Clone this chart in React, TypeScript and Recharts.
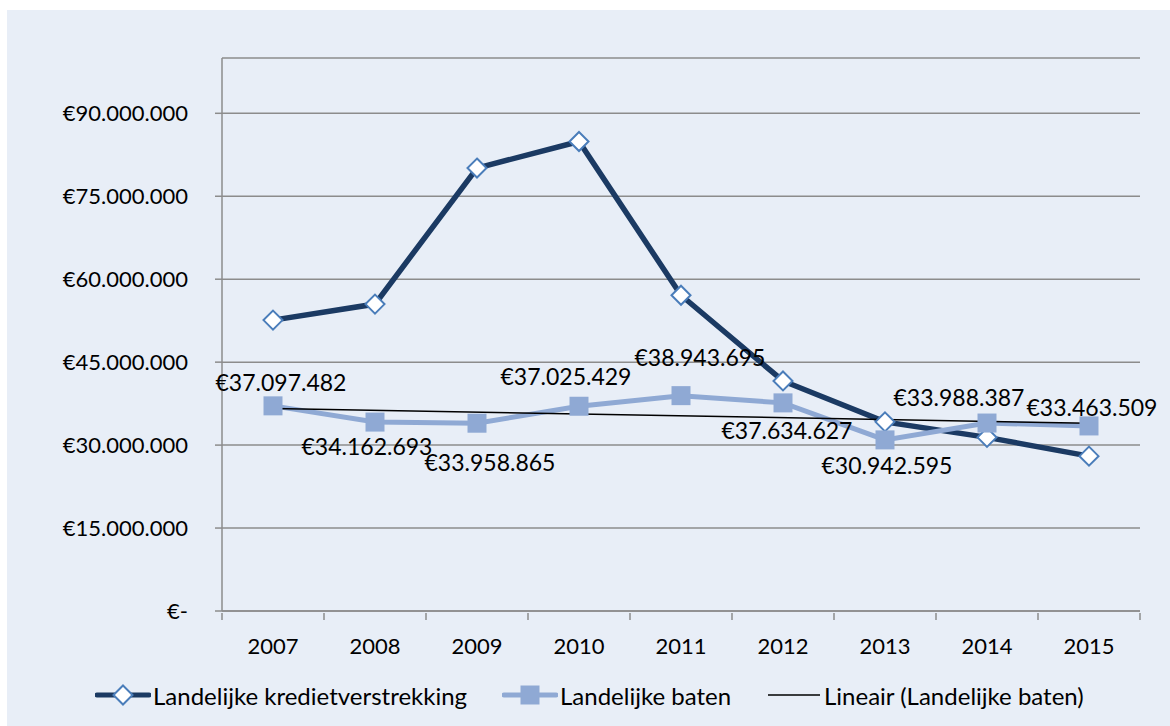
import React from 'react';
import {
  LineChart,
  Line,
  XAxis,
  YAxis,
  CartesianGrid,
  LabelList,
} from 'recharts';

// waarden
const years = ['2007', '2008', '2009', '2010', '2011', '2012', '2013', '2014', '2015'];
const kredietverstrekking = [
  52600000, 55500000, 80100000, 84900000, 57100000, 41600000, 34200000, 31400000, 28000000,
];
const baten = [
  37097482, 34162693, 33958865, 37025429, 38943695, 37634627, 30942595, 33988387, 33463509,
];
// lineaire trend: alleen begin- en eindpunt
const trendBaten = [36630000, null, null, null, null, null, null, null, 33950000];
const yTicks = [0, 15000000, 30000000, 45000000, 60000000, 75000000, 90000000];

const data = years.map((year, i) => ({
  year,
  krediet: kredietverstrekking[i],
  baten: baten[i],
  trend: trendBaten[i],
}));

const FONT = 'Lato, Carlito, Calibri, sans-serif';
const DARK = '#1B3A63';
const DIAMOND = '#4A7DBA';
const LIGHT = '#8FA9D4';
const GRID = '#8C8C8C';

const PLOT_LEFT = 222;
const PLOT_W = 918;
const BAND = PLOT_W / years.length;

// handmatige labelposities (zoals in Excel verschoven)
const labelOffsets = [
  [8, -24], [-8, 24], [13, 39], [-13, -30], [19, -39], [4, 27], [2, 25], [-28, -26], [3, -19],
];

function formatEuro(v: number) {
  if (v === 0) return '€-';
  return '€' + String(Math.round(v)).replace(/\B(?=(\d{3})+(?!\d))/g, '.');
}

function DiamondDot(props: any) {
  const { cx, cy } = props;
  const r = 9.5;
  return (
    <path
      d={`M${cx},${cy - r}L${cx + r},${cy}L${cx},${cy + r}L${cx - r},${cy}Z`}
      fill="#fff"
      stroke={DIAMOND}
      strokeWidth={2}
    />
  );
}

function SquareDot(props: any) {
  const { cx, cy } = props;
  return <rect x={cx - 9.5} y={cy - 9.5} width={19} height={19} fill={LIGHT} />;
}

function XTick(props: any) {
  const { x, y, payload, index } = props;
  const left = x - BAND / 2;
  return (
    <g>
      <line x1={left} y1={y} x2={left} y2={y + 7} stroke={GRID} strokeWidth={1.5} />
      {index === years.length - 1 && (
        <line x1={x + BAND / 2} y1={y} x2={x + BAND / 2} y2={y + 7} stroke={GRID} strokeWidth={1.5} />
      )}
      <text x={x} y={y + 41} textAnchor="middle" fontSize={22} fontFamily={FONT} fill="#000">
        {payload.value}
      </text>
    </g>
  );
}

function BatenLabel(props: any) {
  const { x, y, value, index } = props;
  const [dx, dy] = labelOffsets[index] || [0, -20];
  return (
    <text
      x={x + dx}
      y={y + dy}
      textAnchor="middle"
      dominantBaseline="central"
      fontSize={23}
      fontFamily={FONT}
      fill="#000"
    >
      {formatEuro(value)}
    </text>
  );
}

function LegendItem({ left, icon, label }: { left: number; icon: React.ReactNode; label: string }) {
  return (
    <div style={{ position: 'absolute', left, top: 678, height: 34, display: 'flex', alignItems: 'center' }}>
      <svg width={56} height={24} style={{ marginRight: 2 }}>
        {icon}
      </svg>
      <span style={{ fontFamily: FONT, fontSize: 24, color: '#000', whiteSpace: 'nowrap' }}>{label}</span>
    </div>
  );
}

export default function App() {
  return (
    <div style={{ position: 'relative', width: 1170, height: 726, background: '#fff', overflow: 'hidden' }}>
      <style>{'body{margin:0}'}</style>
      <div style={{ position: 'absolute', left: 7, top: 10, right: 0, bottom: 0, background: '#E8EEF7' }} />
      <div style={{ position: 'absolute', left: 0, top: 0 }}>
        <LineChart
          width={1170}
          height={726}
          data={data}
          margin={{ top: 58, right: 1170 - PLOT_LEFT - PLOT_W, bottom: 0, left: 0 }}
        >
          <CartesianGrid vertical={false} stroke={GRID} strokeWidth={1.5} />
          <XAxis
            dataKey="year"
            axisLine={{ stroke: GRID, strokeWidth: 1.5 }}
            tickLine={false}
            tickSize={0}
            tick={<XTick />}
            interval={0}
            height={115}
            padding={{ left: BAND / 2, right: BAND / 2 }}
          />
          <YAxis
            width={PLOT_LEFT}
            domain={[0, 100000000]}
            ticks={yTicks}
            tickFormatter={formatEuro}
            axisLine={{ stroke: GRID, strokeWidth: 1.5 }}
            tickLine={{ stroke: GRID, strokeWidth: 1.5 }}
            tickSize={7}
            tickMargin={27}
            tick={{ fontSize: 22, fontFamily: FONT, fill: '#000' }}
          />
          <Line
            dataKey="krediet"
            stroke={DARK}
            strokeWidth={5.5}
            dot={(p: any) => <DiamondDot key={`k-${p.index}`} {...p} />}
            activeDot={false}
            isAnimationActive={false}
          />
          <Line
            dataKey="baten"
            stroke={LIGHT}
            strokeWidth={5}
            dot={(p: any) => <SquareDot key={`b-${p.index}`} {...p} />}
            activeDot={false}
            isAnimationActive={false}
          >
            <LabelList dataKey="baten" content={<BatenLabel />} />
          </Line>
          <Line
            dataKey="trend"
            stroke="#000"
            strokeWidth={1.5}
            connectNulls
            dot={false}
            activeDot={false}
            isAnimationActive={false}
          />
        </LineChart>
      </div>
      <LegendItem
        left={95}
        label="Landelijke kredietverstrekking"
        icon={
          <g>
            <line x1={2} y1={12} x2={54} y2={12} stroke={DARK} strokeWidth={5} strokeLinecap="round" />
            <DiamondDot cx={28} cy={12} />
          </g>
        }
      />
      <LegendItem
        left={502}
        label="Landelijke baten"
        icon={
          <g>
            <line x1={2} y1={12} x2={54} y2={12} stroke={LIGHT} strokeWidth={5} strokeLinecap="round" />
            <SquareDot cx={28} cy={12} />
          </g>
        }
      />
      <LegendItem
        left={766}
        label="Lineair (Landelijke baten)"
        icon={<line x1={2} y1={12} x2={54} y2={12} stroke="#000" strokeWidth={1.5} />}
      />
    </div>
  );
}
